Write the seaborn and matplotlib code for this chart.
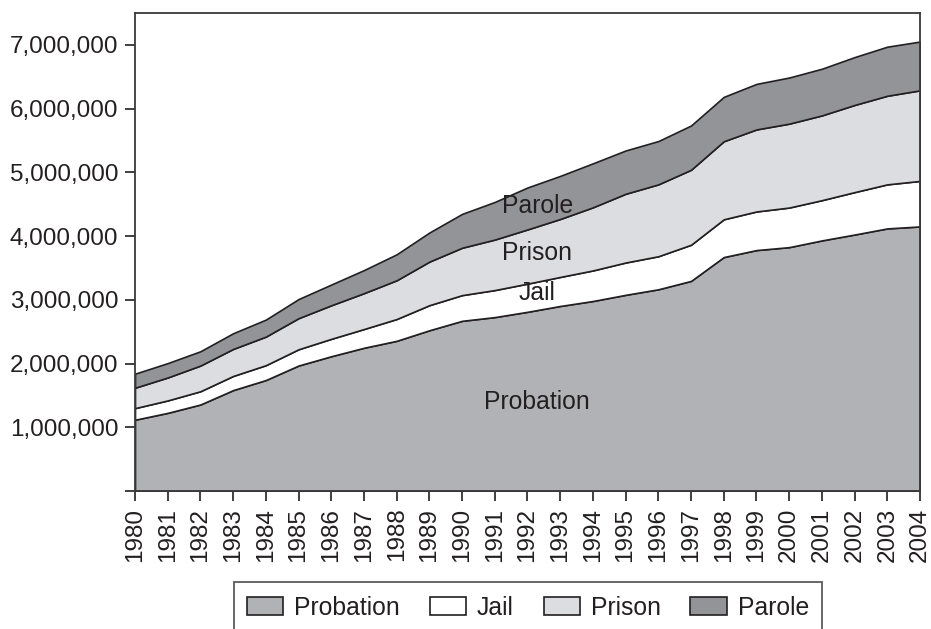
import matplotlib
matplotlib.use("Agg")
import matplotlib.pyplot as plt
import seaborn as sns
import numpy as np
from matplotlib.ticker import FuncFormatter, MultipleLocator

years = list(range(1980, 2005))
probation = [1118097, 1225934, 1357264, 1582947, 1740948, 1968712, 2114621, 2247158,
             2356483, 2522125, 2670234, 2728472, 2811611, 2903061, 2981022, 3077861,
             3164996, 3296513, 3670441, 3779922, 3826209, 3931731, 4024067, 4120012, 4151125]
jail = [182288, 195085, 207853, 221815, 233018, 254986, 272735, 294092, 341893, 393303,
        403019, 424129, 441781, 455500, 479800, 507044, 518492, 567079, 592462, 605943,
        621149, 631240, 665475, 691301, 713990]
prison = [319598, 360029, 402914, 423898, 448264, 487593, 526436, 562814, 607766, 683367,
          743382, 792535, 850566, 909381, 990147, 1078542, 1127528, 1176564, 1224469,
          1287172, 1316333, 1330007, 1367547, 1390279, 1421345]
parole = [220438, 225539, 224604, 246440, 266992, 300203, 325638, 362192, 407977, 456803,
          531407, 590442, 658601, 676100, 690371, 679421, 679733, 694787, 696385, 714457,
          723898, 732333, 750934, 769925, 765355]
series_names = ["Probation", "Jail", "Prison", "Parole"]

sns.set_style("white")
plt.rcParams['font.family'] = ['Liberation Sans', 'DejaVu Sans']

colors = ["#b1b2b6", "#ffffff", "#dcdde0", "#939498"]
text_color = "#231f20"

fig = plt.figure(figsize=(9.31, 6.29), dpi=100)
ax = fig.add_axes([135/931, 1-491/629, (920-135)/931, (491-13)/629])

polys = ax.stackplot(years, probation, jail, prison, parole, labels=series_names,
                     colors=colors, edgecolor="#231f20", linewidth=1.2)

ax.set_xlim(1980, 2004)
ax.set_ylim(0, 7500000)
ax.yaxis.set_major_locator(MultipleLocator(1000000))
ax.yaxis.set_major_formatter(FuncFormatter(lambda v, p: "" if v == 0 else f"{int(v):,}"))
ax.set_xticks(years)
ax.set_xticklabels([str(y) for y in years], rotation=90)

ax.tick_params(axis="both", direction="out", length=7, width=1.2, color="#231f20",
               labelsize=17.5, labelcolor=text_color, pad=5, left=True, bottom=True)
for s in ax.spines.values():
    s.set_color("#3a3a3a")
    s.set_linewidth(1.3)

fs = 17.8
ax.text(1992.3, 4470000, "Parole", ha="center", va="center", fontsize=fs, color=text_color)
ax.text(1992.3, 3740000, "Prison", ha="center", va="center", fontsize=fs, color=text_color)
ax.text(1992.3, 3100000, "Jail", ha="center", va="center", fontsize=fs, color=text_color)
ax.text(1992.3, 1390000, "Probation", ha="center", va="center", fontsize=fs, color=text_color)

leg = fig.legend(handles=polys, labels=series_names, loc="upper center",
                 bbox_to_anchor=(528/931, 1-582/629), ncol=4, frameon=True,
                 fancybox=False, edgecolor="#231f20", fontsize=fs,
                 handlelength=1.46, handleheight=0.69, columnspacing=1.2,
                 handletextpad=0.45, borderpad=0.55, borderaxespad=0)
leg.get_frame().set_linewidth(1.2)
for t in leg.get_texts():
    t.set_color(text_color)

fig.savefig("out.png", dpi=100)
